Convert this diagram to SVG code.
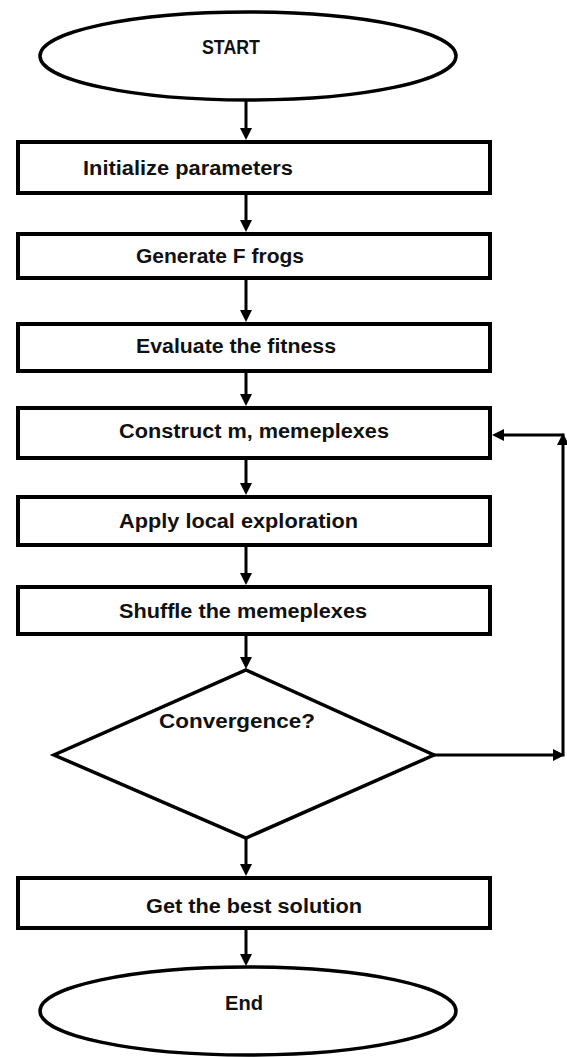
<svg xmlns="http://www.w3.org/2000/svg" width="567" height="1057" viewBox="0 0 567 1057">
<style>
.box{fill:#fff;stroke:#000;stroke-width:4}
.term{fill:#fff;stroke:#000;stroke-width:3.5}
.lbl{font-family:"Liberation Sans",Arial,sans-serif;font-weight:bold;font-size:20px;fill:#111}
.con{stroke:#000;stroke-width:3;fill:none}
</style>
<defs>
<marker id="ah" markerUnits="userSpaceOnUse" markerWidth="12" markerHeight="12" refX="4" refY="6" orient="auto">
<path d="M0,0 L12,6 L0,12 z" fill="#000"/>
</marker>
</defs>
<rect width="567" height="1057" fill="#fff"/>
<g id="start">
<ellipse class="term" cx="248" cy="56" rx="208" ry="44"/>
<text class="lbl" x="202" y="54" textLength="58" lengthAdjust="spacingAndGlyphs">START</text>
</g>
<g id="init">
<rect class="box" x="18" y="142" width="472" height="51"/>
<text class="lbl" x="83" y="175" textLength="210" lengthAdjust="spacingAndGlyphs">Initialize parameters</text>
</g>
<g id="generate">
<rect class="box" x="18" y="234" width="472" height="44"/>
<text class="lbl" x="136" y="263" textLength="168" lengthAdjust="spacingAndGlyphs">Generate F frogs</text>
</g>
<g id="evaluate">
<rect class="box" x="18" y="324" width="472" height="47"/>
<text class="lbl" x="136" y="353" textLength="200" lengthAdjust="spacingAndGlyphs">Evaluate the fitness</text>
</g>
<g id="construct">
<rect class="box" x="18" y="408" width="472" height="50"/>
<text class="lbl" x="119" y="438" textLength="270" lengthAdjust="spacingAndGlyphs">Construct m, memeplexes</text>
</g>
<g id="apply">
<rect class="box" x="18" y="497" width="472" height="48"/>
<text class="lbl" x="119" y="528" textLength="239" lengthAdjust="spacingAndGlyphs">Apply local exploration</text>
</g>
<g id="shuffle">
<rect class="box" x="18" y="587" width="472" height="47"/>
<text class="lbl" x="119" y="618" textLength="248" lengthAdjust="spacingAndGlyphs">Shuffle the memeplexes</text>
</g>
<g id="convergence">
<polygon class="term" points="246,670 434,755 246,838 54,755"/>
<text class="lbl" x="159" y="728" textLength="156" lengthAdjust="spacingAndGlyphs">Convergence?</text>
</g>
<g id="best">
<rect class="box" x="18" y="878" width="472" height="50"/>
<text class="lbl" x="146" y="913" textLength="216" lengthAdjust="spacingAndGlyphs">Get the best solution</text>
</g>
<g id="end">
<ellipse class="term" cx="248" cy="1011" rx="208" ry="44"/>
<text class="lbl" x="225" y="1010" textLength="38" lengthAdjust="spacingAndGlyphs">End</text>
</g>
<g id="connectors">
<line class="con" x1="246" y1="100" x2="246" y2="132" marker-end="url(#ah)"/>
<line class="con" x1="246" y1="193" x2="246" y2="224" marker-end="url(#ah)"/>
<line class="con" x1="246" y1="278" x2="246" y2="314" marker-end="url(#ah)"/>
<line class="con" x1="246" y1="371" x2="246" y2="398" marker-end="url(#ah)"/>
<line class="con" x1="246" y1="458" x2="246" y2="487" marker-end="url(#ah)"/>
<line class="con" x1="246" y1="545" x2="246" y2="577" marker-end="url(#ah)"/>
<line class="con" x1="246" y1="634" x2="246" y2="661" marker-end="url(#ah)"/>
<line class="con" x1="246" y1="838" x2="246" y2="868" marker-end="url(#ah)"/>
<line class="con" x1="246" y1="928" x2="246" y2="958" marker-end="url(#ah)"/>
<line class="con" x1="434" y1="755" x2="557" y2="755" marker-end="url(#ah)"/>
<line class="con" x1="563" y1="756.5" x2="563" y2="441" marker-end="url(#ah)"/>
<line class="con" x1="564.5" y1="435" x2="500" y2="435" marker-end="url(#ah)"/>
</g>
</svg>
